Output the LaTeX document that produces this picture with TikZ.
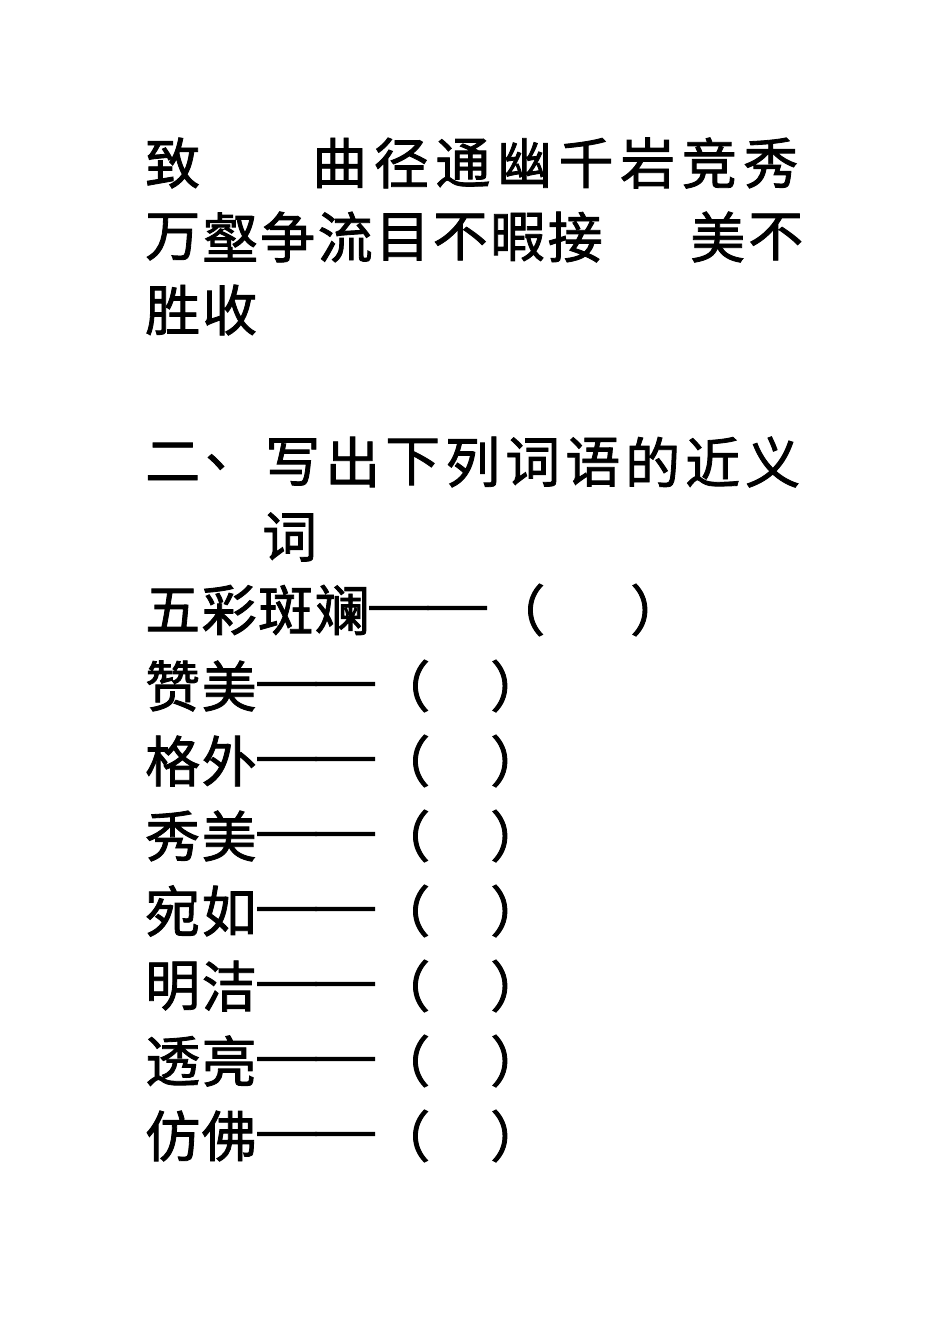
\documentclass[tikz,border=0pt]{standalone}
\usepackage{fontspec}
\newfontfamily\cjk[FakeBold=1.5]{Noto Sans CJK SC}
\newfontfamily\dashfont[FakeBold=2]{Liberation Serif}
\tikzset{ch/.style={anchor=west,inner sep=0pt,font=\cjk\fontsize{55}{60}\selectfont},
 dsh/.style={anchor=west,inner sep=0pt,font=\dashfont\fontsize{58}{60}\selectfont}}
\newcommand\rowchars[4]{\foreach \c [count=\i from 0] in {#4} {\node[ch] (c#3-\i) at ({#1+\i*#2},{-#3}) {\c};}}
\newcommand\entry[4]{%
  \rowchars{145}{56.5}{#1}{#2}%
  \node[dsh] (d#1) at ({#3},{-#1-4}) {——};%
  \rowchars{#4}{\ifnum#3>300 115\else 115\fi}{#1}{（,）}}
\begin{document}
\begin{tikzpicture}[x=1pt,y=1pt]
\useasboundingbox (0,0) rectangle (950,-1344);
\rowchars{145}{60}{163}{致}
\rowchars{312}{61.6}{163}{曲,径,通,幽,千,岩,竞,秀}
\rowchars{145}{57.5}{237}{万,壑,争,流,目,不,暇,接}
\rowchars{690}{58}{237}{美,不}
\rowchars{145}{57}{310}{胜,收}
\rowchars{145}{60}{462}{二,、,写,出,下,列,词,语,的,近,义}
\rowchars{262}{60}{537}{词}
\rowchars{145}{56.5}{610}{五,彩,斑,斓}
\node[dsh] (d610) at (370,-614) {——};
\rowchars{490}{140}{610}{（,）}
\entry{686}{赞,美}{258}{375}
\entry{761}{格,外}{258}{375}
\entry{836}{秀,美}{258}{375}
\entry{911}{宛,如}{258}{375}
\entry{986}{明,洁}{258}{375}
\entry{1061}{透,亮}{258}{375}
\entry{1136}{仿,佛}{258}{375}
\end{tikzpicture}
\end{document}
